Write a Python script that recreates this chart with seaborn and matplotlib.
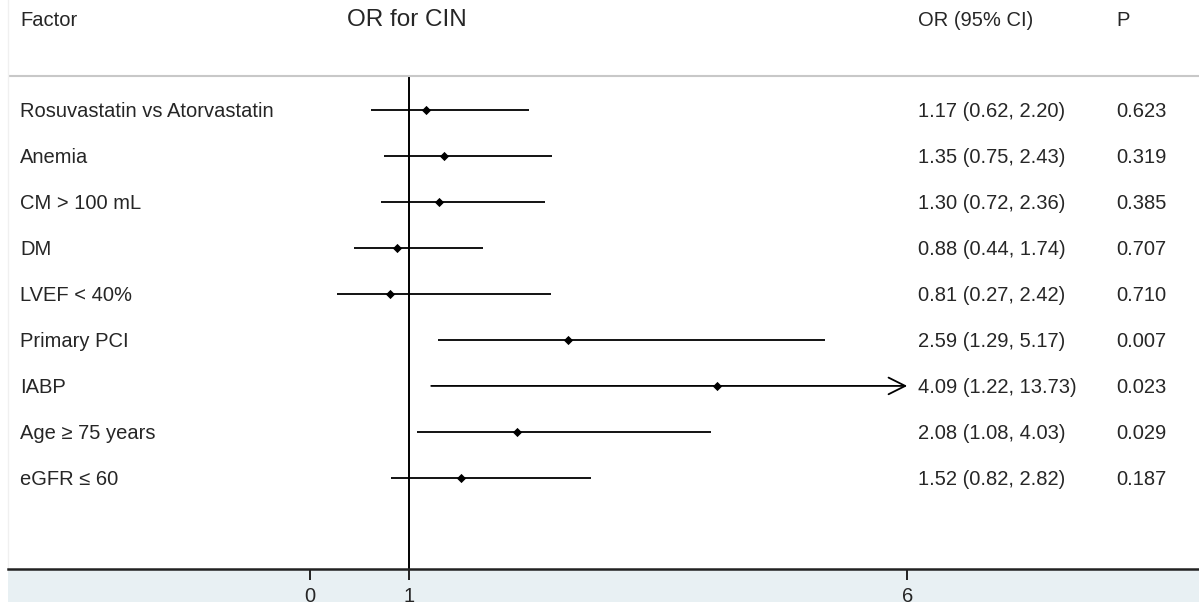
import numpy as np
import pandas as pd
import matplotlib
matplotlib.use("Agg")
import matplotlib.pyplot as plt
from matplotlib.patches import Rectangle
import seaborn as sns

# data
factors = ["Rosuvastatin vs Atorvastatin", "Anemia", "CM > 100 mL", "DM",
           "LVEF < 40%", "Primary PCI", "IABP", "Age \u2265 75 years", "eGFR \u2264 60"]
odds = [1.17, 1.35, 1.30, 0.88, 0.81, 2.59, 4.09, 2.08, 1.52]
ci_low = [0.62, 0.75, 0.72, 0.44, 0.27, 1.29, 1.22, 1.08, 0.82]
ci_high = [2.20, 2.43, 2.36, 1.74, 2.42, 5.17, 13.73, 4.03, 2.82]
p_vals = ["0.623", "0.319", "0.385", "0.707", "0.710", "0.007", "0.023", "0.029", "0.187"]
x_ticks = [0, 1, 6]

df = pd.DataFrame({"factor": factors, "OR": odds, "lo": ci_low, "hi": ci_high, "p": p_vals})
df["row"] = np.arange(len(df))

sns.set_style("white")
plt.rcParams["font.family"] = ["Liberation Sans", "DejaVu Sans"]

fig = plt.figure(figsize=(11.99, 6.02), dpi=100)
fig.patch.set_facecolor("white")
# light blue band under the axis
fig.patches.append(Rectangle((8 / 1199, 0), 1, 33 / 602, transform=fig.transFigure,
                             facecolor="#e8f0f3", edgecolor="none", zorder=-5))
ax = fig.add_axes([8 / 1199, 33 / 602, 1 - 8 / 1199, 569 / 602])
ax.set_facecolor("white")

xmax_plot = 6
ax.set_xlim(-3.03, 8.93)
ax.set_ylim(9.98, -2.39)

# confidence interval lines, arrow if clipped
for _, r in df.iterrows():
    if r["hi"] > xmax_plot:
        ax.annotate("", xy=(xmax_plot, r["row"]), xytext=(r["lo"], r["row"]),
                    arrowprops=dict(arrowstyle="->", lw=1.3, color="black",
                                    mutation_scale=30, shrinkA=0, shrinkB=0))
    else:
        ax.hlines(r["row"], r["lo"], r["hi"], color="black", lw=1.3)

sns.scatterplot(data=df, x="OR", y="row", marker="D", color="black", s=22,
                edgecolor="black", linewidth=0, ax=ax, zorder=3, legend=False)

# reference line at 1
ax.vlines(1, -0.74, 9.98, color="black", lw=1.4)
# header separator
ax.axhline(-0.74, color="#c8c8c8", lw=1.5)

fs = 14.5
ax.text(-2.91, -1.94, "Factor", fontsize=fs, va="center", ha="left")
ax.text(0.98, -1.96, "OR for CIN", fontsize=17.5, va="center", ha="center")
ax.text(6.11, -1.94, "OR (95% CI)", fontsize=fs, va="center", ha="left")
ax.text(8.10, -1.94, "P", fontsize=fs, va="center", ha="left")

for _, r in df.iterrows():
    ax.text(-2.91, r["row"] + 0.04, r["factor"], fontsize=fs, va="center", ha="left")
    ax.text(6.11, r["row"] + 0.04, f"{r['OR']:.2f} ({r['lo']:.2f}, {r['hi']:.2f})",
            fontsize=fs, va="center", ha="left")
    ax.text(8.10, r["row"] + 0.04, r["p"], fontsize=fs, va="center", ha="left")

ax.set_xticks(x_ticks)
ax.set_xticklabels([str(t) for t in x_ticks], fontsize=fs)
ax.tick_params(axis="x", direction="out", length=8, width=1.4, pad=5, bottom=True,
               color="#222222")
ax.set_yticks([])
ax.set_xlabel("")
ax.set_ylabel("")
for side in ["top", "right"]:
    ax.spines[side].set_visible(False)
ax.spines["left"].set_color("#f0f0f0")
ax.spines["left"].set_linewidth(1.0)
ax.spines["bottom"].set_color("#222222")
ax.spines["bottom"].set_linewidth(1.8)

fig.savefig("out.png", dpi=100, facecolor=fig.get_facecolor())
